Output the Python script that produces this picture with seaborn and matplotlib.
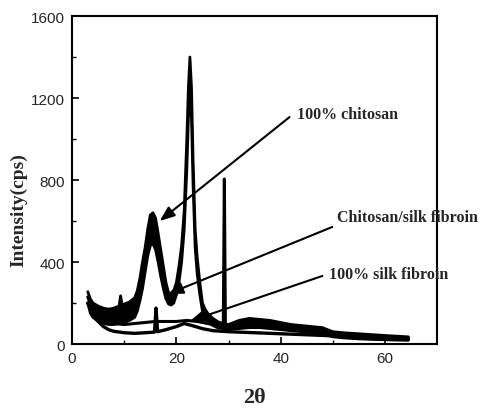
import matplotlib
matplotlib.use("Agg")
import matplotlib.pyplot as plt
import seaborn as sns
import pandas as pd

# XRD traces (2theta, intensity in cps)
# the noisy trace with two peaks is kept as an upper and a lower envelope
peak_x = [3, 3.5, 4, 5, 6, 7, 8, 9, 9.3, 9.6, 10, 11, 12, 12.5, 13, 13.5, 14, 14.5, 15, 15.5,
          16, 16.5, 17, 17.5, 18, 18.5, 19, 19.5, 20, 20.5, 21, 21.5, 22, 22.3, 22.6, 22.9, 23.2, 23.6, 24, 24.5,
          25, 25.5, 26, 27, 28, 29, 30, 32, 34, 36, 38, 40, 42, 44, 46, 48, 50, 52, 55, 58,
          61, 64.5]
peak_hi = [255, 220, 200, 185, 175, 170, 175, 185, 235, 190, 195, 205, 225, 260, 320, 400, 470, 560, 630, 640,
           615, 540, 460, 380, 300, 250, 235, 260, 300, 380, 480, 650, 1000, 1250, 1400, 1250, 900, 560, 420, 300,
           200, 170, 150, 125, 108, 100, 95, 115, 125, 120, 115, 105, 95, 90, 85, 80, 60, 55, 50, 45,
           40, 35]
peak_lo = [200, 150, 130, 110, 100, 95, 95, 100, 100, 100, 105, 115, 130, 160, 210, 270, 350, 430, 480, 490,
           460, 400, 330, 270, 220, 195, 190, 200, 240, 300, 400, 560, 850, 1100, 1250, 1100, 780, 470, 340, 240,
           160, 130, 110, 90, 78, 75, 70, 75, 80, 80, 75, 70, 65, 60, 55, 50, 35, 30, 25, 22,
           20, 18]

mid_x = [3, 4, 5, 6, 7, 8, 10, 12, 14, 16, 18, 20, 22, 24, 26, 28, 29, 29.2, 29.4, 29.6,
         31, 34, 37, 40, 44, 48, 52, 56, 60, 64.5]
mid_y = [230, 160, 130, 115, 105, 100, 95, 100, 105, 110, 110, 110, 115, 110, 100, 90, 90, 805, 90, 85,
         85, 100, 95, 85, 75, 65, 50, 40, 35, 30]

low_x = [3, 4, 5, 6, 7, 8, 10, 12, 14, 15.8, 16.1, 16.4, 18, 20, 21.5, 23, 25, 27, 30, 35,
         40, 45, 50, 55, 60, 64.5]
low_y = [200, 150, 110, 85, 70, 62, 55, 52, 55, 58, 175, 60, 70, 85, 100, 90, 75, 65, 60, 55,
         50, 45, 40, 35, 30, 25]

labels = ["100% chitosan", "Chitosan/silk fibroin", "100% silk fibroin"]
label_text_pos = [(43.2, 1120), (50.9, 620), (49.3, 341)]
arrow_start = [(41.7, 1107), (49.9, 571), (48.0, 332)]
arrow_tip = [(16.8, 600), (18.4, 244), (22.6, 112)]

sns.set_style("ticks")
plt.rcParams["font.family"] = ["Liberation Serif", "DejaVu Serif"]

fig = plt.figure(figsize=(4.84, 4.10), dpi=100)
ax = fig.add_axes([0.149, 0.1585, 0.754, 0.80])

peak = pd.DataFrame({"x": peak_x, "hi": peak_hi, "lo": peak_lo})
ax.fill_between(peak["x"], peak["lo"], peak["hi"], color="black", lw=0)
sns.lineplot(data=peak, x="x", y="hi", ax=ax, color="black", lw=2.0, sort=False)
sns.lineplot(data=peak, x="x", y="lo", ax=ax, color="black", lw=2.0, sort=False)
sns.lineplot(data=pd.DataFrame({"x": mid_x, "y": mid_y}), x="x", y="y", ax=ax,
             color="black", lw=2.2, sort=False)
sns.lineplot(data=pd.DataFrame({"x": low_x, "y": low_y}), x="x", y="y", ax=ax,
             color="black", lw=2.4, sort=False)

for lab, tp, st, tip in zip(labels, label_text_pos, arrow_start, arrow_tip):
    ax.annotate("", xy=tip, xytext=st,
                arrowprops=dict(arrowstyle="-|>,head_length=0.9,head_width=0.35",
                                color="black", lw=1.5, shrinkA=0, shrinkB=0))
    ax.text(tp[0], tp[1], lab, ha="left", va="center", fontsize=11.5,
            fontweight="bold", clip_on=False)

ax.set_xlim(0, 70)
ax.set_ylim(0, 1600)
ax.set_xticks([0, 20, 40, 60])
ax.set_xticks([10, 30, 50], minor=True)
ax.set_yticks([0, 400, 800, 1200, 1600])
ax.set_yticks([200, 600, 1000, 1400], minor=True)
ax.tick_params(which="both", direction="in", color="black")
ax.tick_params(which="major", length=5, width=1.2, pad=5)
ax.tick_params(which="minor", length=3, width=1.0)
for t in ax.get_xticklabels() + ax.get_yticklabels():
    t.set_family(["Liberation Sans", "DejaVu Sans"])
    t.set_fontsize(11)
for s in ax.spines.values():
    s.set_visible(True)
    s.set_linewidth(1.5)
    s.set_color("black")

ax.set_xlabel("2θ", fontsize=16, fontweight="bold")
ax.set_ylabel("Intensity(cps)", fontsize=14, fontweight="bold")
ax.xaxis.set_label_coords(0.5, -0.13)
ax.yaxis.set_label_coords(-0.123, 0.41)

fig.savefig("out.png", dpi=100)
